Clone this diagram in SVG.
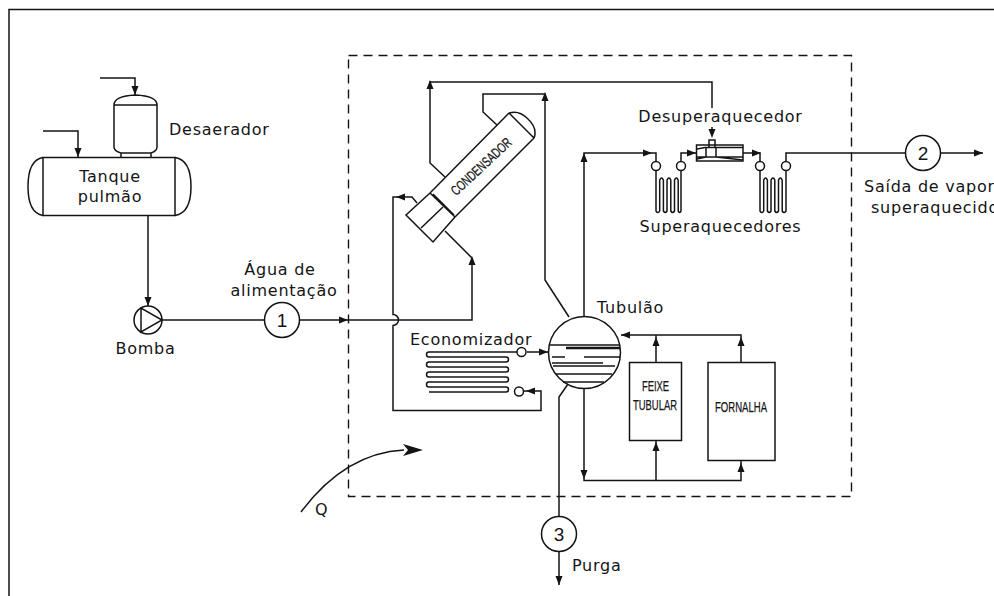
<svg xmlns="http://www.w3.org/2000/svg" width="994" height="596" viewBox="0 0 994 596">
<style>
.l{fill:none;stroke:#141414;stroke-width:1.5}
.t{font-family:"DejaVu Sans",Verdana,sans-serif;font-size:16px;letter-spacing:.75px;fill:#141414}
.c{font-family:"Liberation Sans",Arial,sans-serif;font-size:15px;fill:#141414;stroke:#141414;stroke-width:.25}
.d{font-family:"Liberation Sans",Arial,sans-serif;font-size:19px;fill:#141414}
.a{fill:#141414;stroke:none}
</style>
<defs>
<path id="ar" class="a" d="M0 0L-9 -3.500L-9 3.500Z"/>
</defs>
<rect width="994" height="596" fill="#fff"/>
<path class="l" d="M9 596V9.500H994"/>
<rect id="boundary" x="348.500" y="55.500" width="503" height="441" fill="none" stroke="#141414" stroke-width="1.4" stroke-dasharray="9 6"/>
<g id="connectors">
<path class="l" d="M100 78H135V95M43 131H78V157M148 215V306M162 320H265M299.500 320H472V258L445 231"/>
<path class="l" d="M445 177L430 163V82H712V108M712 127V135M497 125L483 112V94H545V280L569 317"/>
<path class="l" d="M417 203L412 197H393V314.500A5.500 5.500 0 0 1 393 325.500V410.500H541V391H524"/>
<path class="l" d="M527 352H548M621 335H741V362M656 335V362M584 388V480.500H741V461M656 480.500V440"/>
<path class="l" d="M568 384L559 397V516.500M559 551.500V585"/>
<path class="l" d="M584 317V153H656V161.500M681 161.500V153H696M743 153H760V161.500M786 161.500V153H905.500M940.500 153H983"/>
<path class="l" d="M301 512Q345 453 404 450"/>
<use href="#ar" transform="translate(348 320)"/>
<use href="#ar" transform="translate(472 256) rotate(-90)"/>
<use href="#ar" transform="translate(430 80) rotate(-90)"/>
<use href="#ar" transform="translate(545 92) rotate(-90)"/>
<use href="#ar" transform="translate(396 197) rotate(180)"/>
<use href="#ar" transform="translate(548 352)"/>
<use href="#ar" transform="translate(526 391) rotate(180)"/>
<use href="#ar" transform="translate(621 335) rotate(180)"/>
<use href="#ar" transform="translate(656 337) rotate(-90)"/>
<use href="#ar" transform="translate(741 337) rotate(-90)"/>
<use href="#ar" transform="translate(584 479) rotate(90)"/>
<use href="#ar" transform="translate(656 442) rotate(-90)"/>
<use href="#ar" transform="translate(741 463) rotate(-90)"/>
<use href="#ar" transform="translate(559 585) rotate(90)"/>
<use href="#ar" transform="translate(584 153) rotate(-90)"/>
<use href="#ar" transform="translate(652 153)"/>
<use href="#ar" transform="translate(696 153)"/>
<use href="#ar" transform="translate(761 153)"/>
<use href="#ar" transform="translate(983 153)"/>
<use href="#ar" transform="translate(135 95) rotate(90)"/>
<use href="#ar" transform="translate(78 157) rotate(90)"/>
<use href="#ar" transform="translate(148 306) rotate(90)"/>
<use href="#ar" transform="translate(712 138) rotate(90)"/>
<path class="a" d="M423 450L403 444L408 450L403 456Z"/>
</g>
<g id="desaerador">
<path class="l" d="M114 105H157M114 105V147Q114 151 121 153V157M157 105V147Q157 151 151 153V157M121 153H151M114 105Q114 96 135.500 95Q157 96 157 105"/>
<text class="t" x="169" y="135">Desaerador</text>
</g>
<g id="tanque">
<rect class="l" x="43" y="157.500" width="132" height="58"/>
<path class="l" d="M43 157.500Q28 160 28 186.500Q28 213 43 215.500M175 157.500Q191 160 191 186.500Q191 213 175 215.500"/>
<text class="t" x="110" y="182" text-anchor="middle">Tanque</text>
<text class="t" x="110" y="202" text-anchor="middle">pulmão</text>
</g>
<g id="bomba">
<circle class="l" cx="148" cy="320" r="14"/>
<path class="l" d="M141 308V332L162 320Z"/>
<text class="t" x="145.500" y="354" text-anchor="middle">Bomba</text>
</g>
<g id="ponto1">
<circle class="l" cx="282" cy="320" r="17.500"/>
<text class="d" x="282" y="327" text-anchor="middle">1</text>
<text class="t" x="280" y="275" text-anchor="middle">Água de</text>
<text class="t" x="284" y="296" text-anchor="middle">alimentação</text>
</g>
<g id="condensador">
<path class="l" d="M430 193L509 113M455 217L534 138M509 113L534 138M509 113Q519 110 527 118Q538 128 534 138"/>
<path class="l" d="M430 193L455 217M433 194L454 215M430 193L406 215L433 242L455 217M421 228L443 207"/>
<text class="c" style="font-size:14px" transform="translate(484.500 170) rotate(-43)" text-anchor="middle" textLength="77" lengthAdjust="spacingAndGlyphs">CONDENSADOR</text>
</g>
<g id="economizador">
<path class="l" d="M517 352H429A2.500 2.500 0 0 0 429 357H506A2.500 2.500 0 0 1 506 362H429A2.500 2.500 0 0 0 429 367H506A2.500 2.500 0 0 1 506 372H429A2.500 2.500 0 0 0 429 377H506A2.500 2.500 0 0 1 506 382H429A2.500 2.500 0 0 0 429 387H506A2.500 2.500 0 0 1 506 392H429M429 387"/>
<circle class="l" cx="521.500" cy="352" r="4.500" fill="#fff"/>
<circle class="l" cx="519" cy="391.500" r="4.500"/>
<text class="t" x="410" y="345">Economizador</text>
</g>
<g id="tubulao">
<circle class="l" cx="584.500" cy="352.500" r="36"/>
<path class="l" d="M550 345H619M552 357H565M584 357H620M552 363H603M553 366H615M556 374H612M563 382H604"/>
<path d="M566 348H620" fill="none" stroke="#141414" stroke-width="2.500"/>
<text class="t" x="597" y="313">Tubulão</text>
</g>
<g id="feixe">
<rect class="l" x="629.500" y="362.500" width="52" height="78"/>
<text class="c" x="655.500" y="391" text-anchor="middle" textLength="27" lengthAdjust="spacingAndGlyphs">FEIXE</text>
<text class="c" x="655" y="410" text-anchor="middle" textLength="44" lengthAdjust="spacingAndGlyphs">TUBULAR</text>
</g>
<g id="fornalha">
<rect class="l" x="708" y="362.500" width="67" height="98"/>
<text class="c" x="741" y="412" text-anchor="middle" textLength="52" lengthAdjust="spacingAndGlyphs">FORNALHA</text>
</g>
<g id="superaquecedor1">
<path class="l" d="M656 170.500V211Q658 214 659.700 211V180Q661.500 176 663.400 180V211Q665.200 214 667 211V180Q669 176 670.800 180V211Q672.700 214 674.500 211V180Q676.300 176 678.200 180V211Q680 214 681 211V170.500"/>
<circle class="l" cx="656" cy="166" r="4.500"/>
<circle class="l" cx="681" cy="166" r="4.500"/>
</g>
<g id="superaquecedor2">
<path class="l" d="M760 170.500V211Q762 214 763.700 211V180Q765.500 176 767.400 180V211Q769.200 214 771 211V180Q773 176 774.800 180V211Q776.700 214 778.500 211V180Q780.300 176 782.200 180V211Q784 214 786 211V170.500"/>
<circle class="l" cx="760" cy="166" r="4.500"/>
<circle class="l" cx="786" cy="166" r="4.500"/>
<text class="t" x="720.500" y="232" text-anchor="middle">Superaquecedores</text>
</g>
<g id="desuperaquecedor">
<rect class="l" x="696.500" y="145" width="46.500" height="16"/>
<path class="l" d="M705 147.500H743M697 157H743M706 147.500V157M716 147.500V157M697 149L705 147.500M697 159L706 157M716 157L743 160M709 147.500V140H715V147.500"/>
<text class="t" x="720.500" y="122" text-anchor="middle">Desuperaquecedor</text>
</g>
<g id="ponto2">
<circle class="l" cx="923" cy="153" r="17.500"/>
<text class="d" x="923" y="160" text-anchor="middle">2</text>
<text class="t" x="864" y="192">Saída de vapor</text>
<text class="t" x="871" y="213">superaquecido</text>
</g>
<g id="ponto3">
<circle class="l" cx="559" cy="534" r="17.500"/>
<text class="d" x="559" y="541" text-anchor="middle">3</text>
<text class="t" x="572" y="571">Purga</text>
</g>
<text id="q" class="t" x="315" y="515">Q</text>
</svg>
